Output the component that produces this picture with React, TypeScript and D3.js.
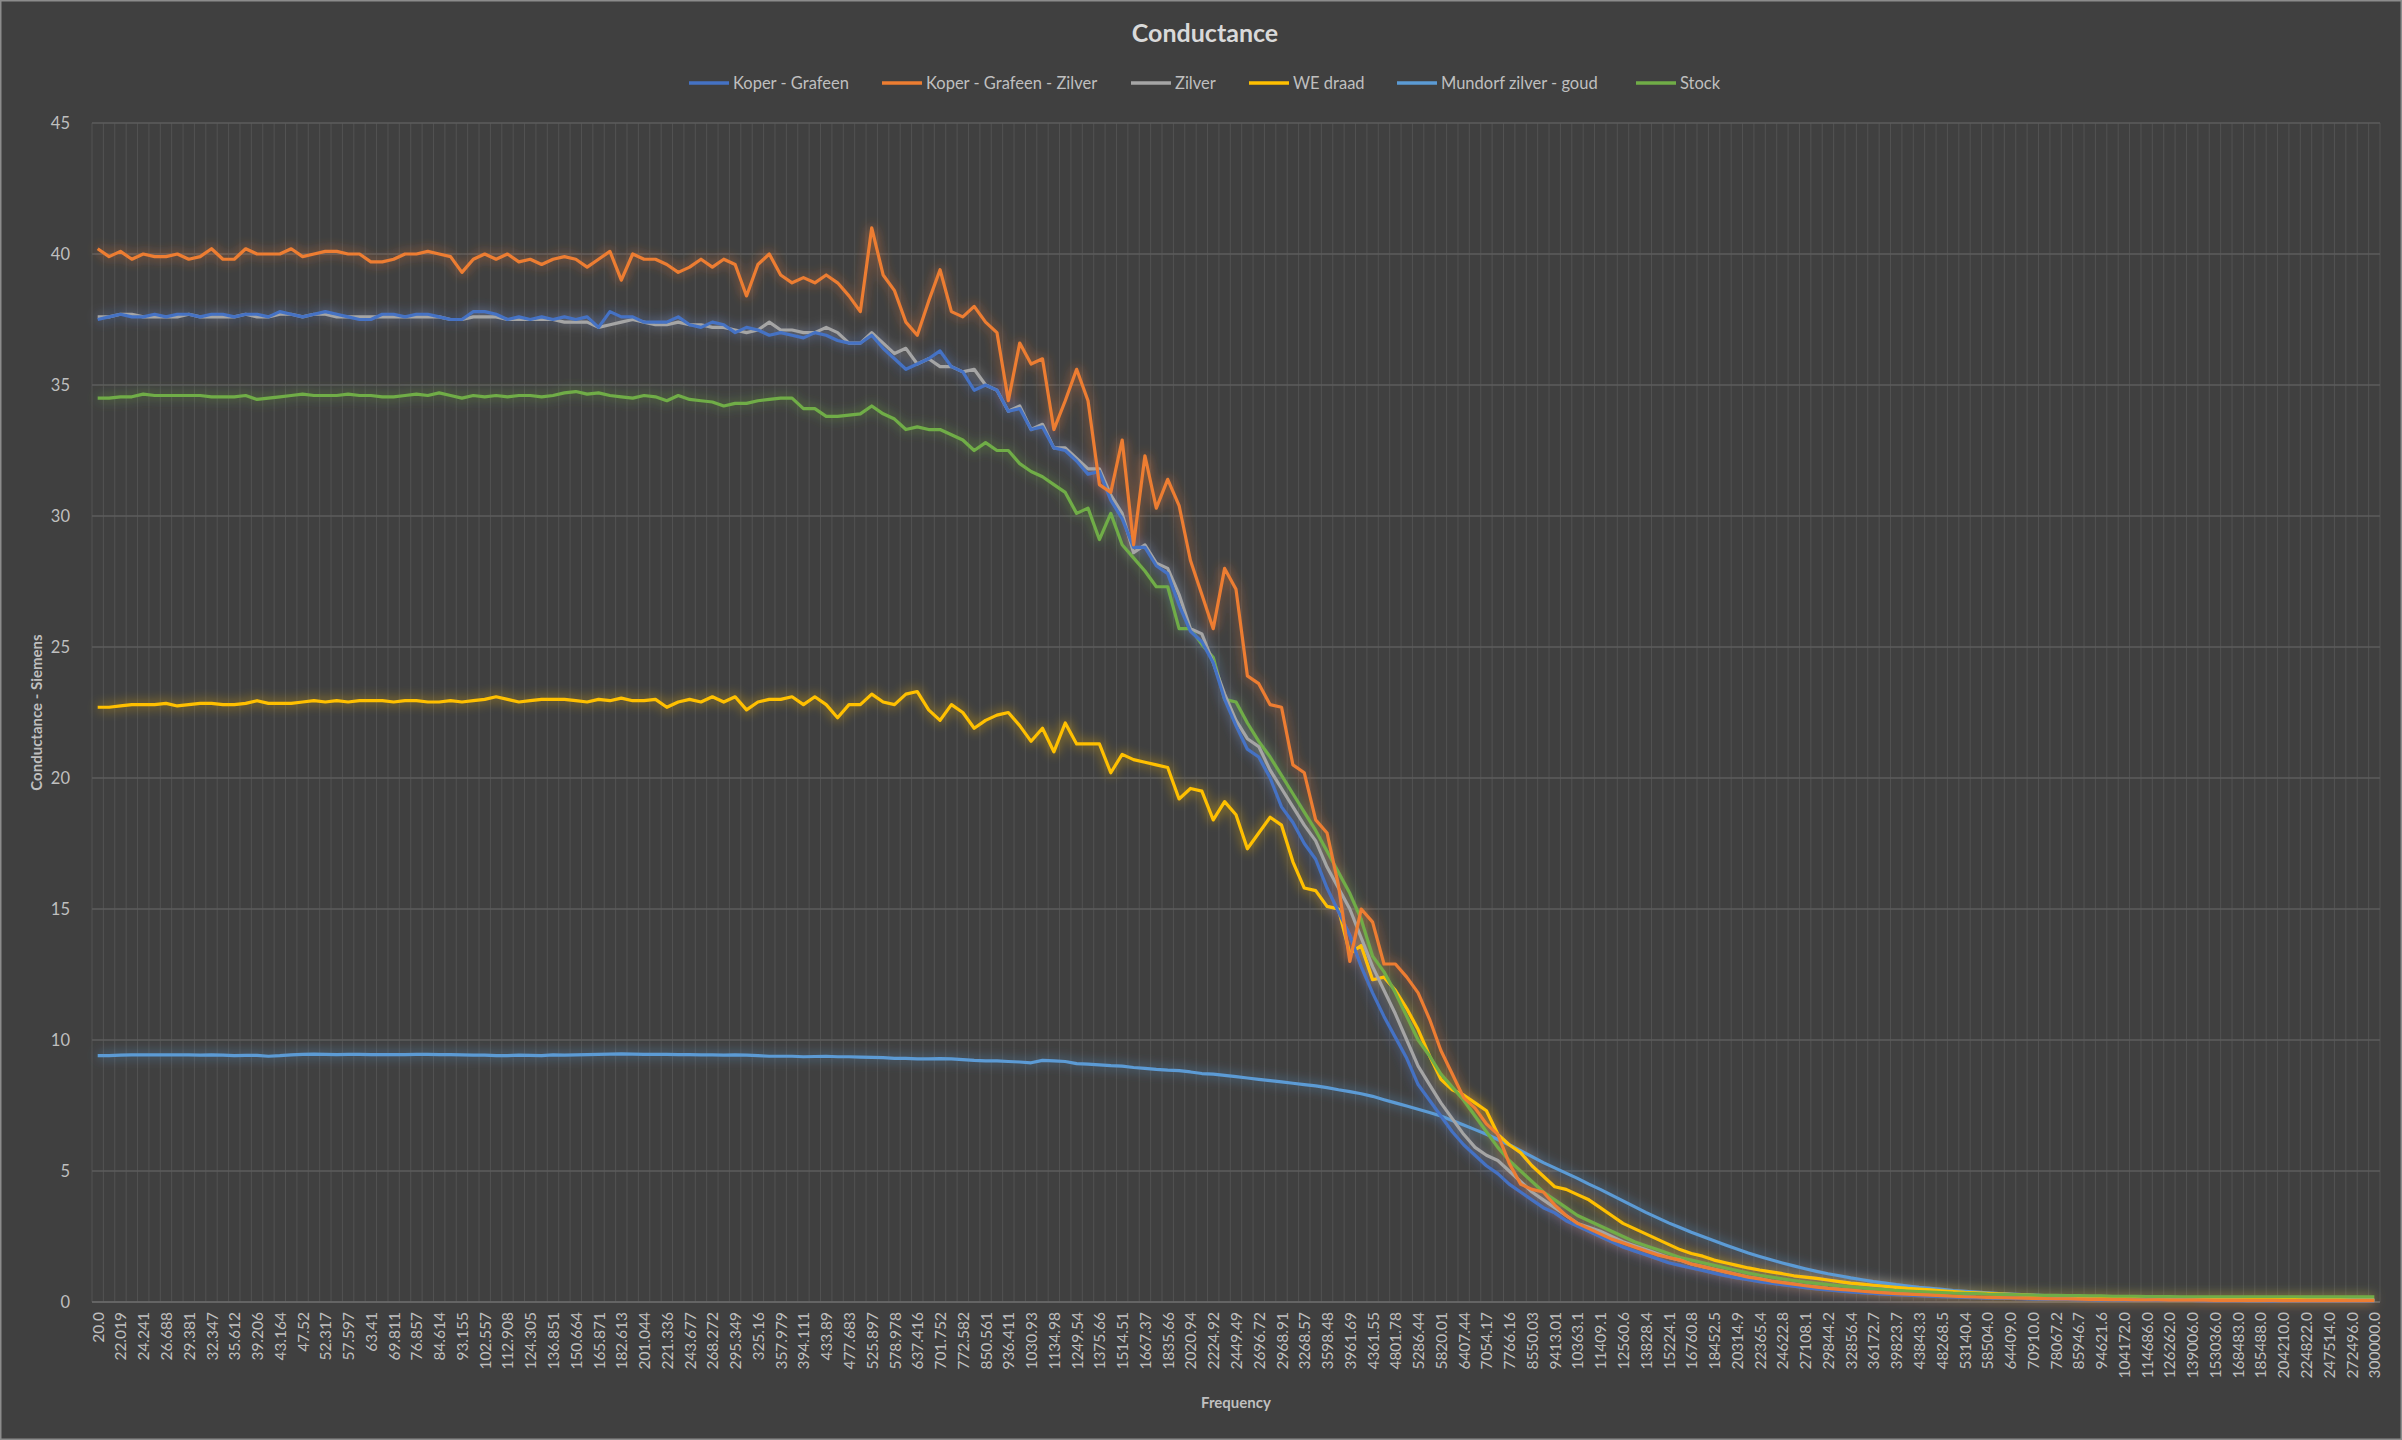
import React from "react";
import * as d3 from "d3";

const freqLabels = ["20.0","22.019","24.241","26.688","29.381","32.347","35.612","39.206","43.164","47.52","52.317","57.597","63.41","69.811","76.857","84.614","93.155","102.557","112.908","124.305","136.851","150.664","165.871","182.613","201.044","221.336","243.677","268.272","295.349","325.16","357.979","394.111","433.89","477.683","525.897","578.978","637.416","701.752","772.582","850.561","936.411","1030.93","1134.98","1249.54","1375.66","1514.51","1667.37","1835.66","2020.94","2224.92","2449.49","2696.72","2968.91","3268.57","3598.48","3961.69","4361.55","4801.78","5286.44","5820.01","6407.44","7054.17","7766.16","8550.03","9413.01","10363.1","11409.1","12560.6","13828.4","15224.1","16760.8","18452.5","20314.9","22365.4","24622.8","27108.1","29844.2","32856.4","36172.7","39823.7","43843.3","48268.5","53140.4","58504.0","64409.0","70910.0","78067.2","85946.7","94621.6","104172.0","114686.0","126262.0","139006.0","153036.0","168483.0","185488.0","204210.0","224822.0","247514.0","272496.0","300000.0"];

const koperGrafeen = [
37.5,37.6,37.7,37.6,37.6,37.7,37.6,37.7,37.7,37.6,
37.7,37.7,37.6,37.7,37.7,37.6,37.8,37.7,37.6,37.7,
37.8,37.7,37.6,37.5,37.5,37.7,37.7,37.6,37.7,37.7,
37.6,37.5,37.5,37.8,37.8,37.7,37.5,37.6,37.5,37.6,
37.5,37.6,37.5,37.6,37.2,37.8,37.6,37.6,37.4,37.4,
37.4,37.6,37.3,37.2,37.4,37.3,37.0,37.2,37.1,36.9,
37.0,36.9,36.8,37.0,36.9,36.7,36.6,36.6,36.9,36.4,
36.0,35.6,35.8,36.0,36.3,35.7,35.5,34.8,35.0,34.8,
34.0,34.1,33.3,33.4,32.6,32.5,32.1,31.6,31.7,30.6,
29.9,28.8,28.8,28.1,27.8,26.6,25.6,25.2,24.4,23.0,
22.0,21.1,20.8,20.0,18.9,18.3,17.5,16.9,15.8,14.9,
14.0,12.8,11.8,10.9,10.1,9.3,8.3,7.7,7.1,6.5,
6.0,5.6,5.2,4.9,4.5,4.2,3.9,3.6,3.4,3.1,
2.9,2.7,2.5,2.3,2.1,1.95,1.8,1.65,1.5,1.4,
1.3,1.2,1.1,1.0,0.92,0.85,0.78,0.72,0.66,0.6,
0.55,0.5,0.46,0.42,0.39,0.36,0.33,0.3,0.28,0.26,
0.24,0.22,0.2,0.19,0.18,0.17,0.16,0.15,0.14,0.13,
0.12,0.11,0.1,0.1,0.09,0.09,0.08,0.08,0.07,0.07,
0.07,0.06,0.06,0.06,0.06,0.05,0.05,0.05,0.05,0.05,
0.05,0.04,0.04,0.04,0.04,0.04,0.04,0.04,0.04,0.04,0.04];

const koperGrafeenZilver = [
40.2,39.9,40.1,39.8,40.0,39.9,39.9,40.0,39.8,39.9,
40.2,39.8,39.8,40.2,40.0,40.0,40.0,40.2,39.9,40.0,
40.1,40.1,40.0,40.0,39.7,39.7,39.8,40.0,40.0,40.1,
40.0,39.9,39.3,39.8,40.0,39.8,40.0,39.7,39.8,39.6,
39.8,39.9,39.8,39.5,39.8,40.1,39.0,40.0,39.8,39.8,
39.6,39.3,39.5,39.8,39.5,39.8,39.6,38.4,39.6,40.0,
39.2,38.9,39.1,38.9,39.2,38.9,38.4,37.8,41.0,39.2,
38.6,37.4,36.9,38.2,39.4,37.8,37.6,38.0,37.4,37.0,
34.4,36.6,35.8,36.0,33.3,34.4,35.6,34.4,31.2,30.9,
32.9,28.9,32.3,30.3,31.4,30.4,28.3,27.0,25.7,28.0,
27.2,23.9,23.6,22.8,22.7,20.5,20.2,18.4,17.9,15.9,
13.0,15.0,14.5,12.9,12.9,12.4,11.8,10.8,9.6,8.7,
7.8,7.4,6.8,6.4,5.3,4.5,4.3,4.2,3.7,3.3,
3.0,2.8,2.6,2.4,2.25,2.1,1.95,1.8,1.7,1.6,
1.45,1.35,1.25,1.15,1.05,0.95,0.88,0.8,0.74,0.68,
0.62,0.57,0.52,0.48,0.45,0.41,0.38,0.35,0.32,0.3,
0.28,0.26,0.24,0.22,0.2,0.19,0.18,0.17,0.16,0.15,
0.14,0.13,0.12,0.12,0.11,0.1,0.1,0.09,0.09,0.08,
0.08,0.08,0.07,0.07,0.07,0.07,0.06,0.06,0.06,0.06,
0.06,0.06,0.05,0.05,0.05,0.05,0.05,0.05,0.05,0.05,0.05];

const zilver = [
37.6,37.6,37.7,37.7,37.6,37.6,37.6,37.6,37.7,37.6,
37.6,37.6,37.6,37.7,37.6,37.6,37.7,37.7,37.6,37.7,
37.7,37.6,37.6,37.6,37.6,37.6,37.6,37.6,37.6,37.6,
37.6,37.5,37.5,37.6,37.6,37.6,37.5,37.5,37.5,37.5,
37.5,37.4,37.4,37.4,37.2,37.3,37.4,37.5,37.4,37.3,
37.3,37.4,37.3,37.3,37.2,37.2,37.1,37.0,37.1,37.4,
37.1,37.1,37.0,37.0,37.2,37.0,36.6,36.6,37.0,36.6,
36.2,36.4,35.8,36.0,35.7,35.7,35.5,35.6,35.0,34.8,
34.0,34.2,33.3,33.5,32.6,32.6,32.2,31.8,31.8,30.8,
30.1,28.6,28.9,28.2,28.0,27.0,25.7,25.5,24.4,23.2,
22.2,21.5,21.2,20.3,19.6,18.9,18.2,17.6,16.6,15.8,
15.0,13.9,12.8,11.9,11.0,10.0,9.0,8.3,7.6,7.0,
6.4,5.9,5.6,5.4,5.0,4.6,4.2,3.9,3.6,3.3,
3.0,2.85,2.7,2.5,2.3,2.15,2.0,1.85,1.7,1.6,
1.45,1.35,1.25,1.15,1.05,0.95,0.88,0.8,0.74,0.68,
0.62,0.57,0.52,0.48,0.44,0.4,0.37,0.34,0.31,0.29,
0.27,0.25,0.23,0.21,0.2,0.18,0.17,0.16,0.15,0.14,
0.13,0.12,0.12,0.11,0.1,0.1,0.09,0.09,0.08,0.08,
0.08,0.07,0.07,0.07,0.06,0.06,0.06,0.06,0.06,0.05,
0.05,0.05,0.05,0.05,0.05,0.05,0.05,0.05,0.05,0.05,0.05];

const weDraad = [
22.7,22.7,22.75,22.8,22.8,22.8,22.85,22.75,22.8,22.85,
22.85,22.8,22.8,22.85,22.95,22.85,22.85,22.85,22.9,22.95,
22.9,22.95,22.9,22.95,22.95,22.95,22.9,22.95,22.95,22.9,
22.9,22.95,22.9,22.95,23.0,23.1,23.0,22.9,22.95,23.0,
23.0,23.0,22.95,22.9,23.0,22.95,23.05,22.95,22.95,23.0,
22.7,22.9,23.0,22.9,23.1,22.9,23.1,22.6,22.9,23.0,
23.0,23.1,22.8,23.1,22.8,22.3,22.8,22.8,23.2,22.9,
22.8,23.2,23.3,22.6,22.2,22.8,22.5,21.9,22.2,22.4,
22.5,22.0,21.4,21.9,21.0,22.1,21.3,21.3,21.3,20.2,
20.9,20.7,20.6,20.5,20.4,19.2,19.6,19.5,18.4,19.1,
18.6,17.3,17.9,18.5,18.2,16.8,15.8,15.7,15.1,15.0,
13.3,13.6,12.3,12.4,11.9,11.2,10.4,9.4,8.5,8.1,
7.9,7.6,7.3,6.4,6.0,5.7,5.2,4.8,4.4,4.3,
4.1,3.9,3.6,3.3,3.0,2.8,2.6,2.4,2.2,2.0,
1.85,1.75,1.6,1.5,1.4,1.3,1.22,1.15,1.08,1.0,
0.95,0.9,0.84,0.78,0.72,0.68,0.64,0.6,0.56,0.52,
0.49,0.46,0.43,0.4,0.37,0.35,0.33,0.31,0.29,0.27,
0.25,0.23,0.22,0.21,0.2,0.19,0.18,0.17,0.16,0.15,
0.15,0.14,0.13,0.13,0.12,0.12,0.11,0.11,0.1,0.1,
0.1,0.09,0.09,0.09,0.08,0.08,0.08,0.08,0.07,0.07,0.07];

const mundorf = [
9.4,9.4,9.42,9.43,9.43,9.43,9.43,9.43,9.43,9.42,
9.43,9.42,9.4,9.41,9.41,9.38,9.4,9.43,9.45,9.46,
9.45,9.44,9.45,9.45,9.44,9.44,9.44,9.44,9.45,9.45,
9.44,9.44,9.43,9.42,9.42,9.4,9.4,9.42,9.41,9.4,
9.43,9.42,9.43,9.44,9.45,9.46,9.47,9.46,9.45,9.45,
9.45,9.44,9.44,9.43,9.43,9.42,9.43,9.42,9.4,9.38,
9.38,9.38,9.36,9.37,9.38,9.36,9.36,9.35,9.34,9.33,
9.3,9.3,9.28,9.28,9.29,9.28,9.25,9.22,9.2,9.2,
9.18,9.16,9.13,9.22,9.2,9.18,9.1,9.08,9.05,9.02,
9.0,8.95,8.92,8.88,8.85,8.83,8.78,8.72,8.7,8.65,
8.6,8.55,8.5,8.45,8.4,8.35,8.3,8.25,8.18,8.1,
8.03,7.95,7.85,7.72,7.6,7.48,7.36,7.23,7.1,6.93,
6.76,6.58,6.4,6.2,6.0,5.78,5.55,5.32,5.12,4.92,
4.72,4.5,4.3,4.08,3.86,3.64,3.42,3.22,3.02,2.84,
2.66,2.5,2.34,2.18,2.02,1.87,1.74,1.61,1.49,1.38,
1.27,1.17,1.08,1.0,0.92,0.85,0.78,0.72,0.66,0.61,
0.56,0.52,0.48,0.44,0.41,0.38,0.35,0.32,0.3,0.28,
0.26,0.24,0.22,0.21,0.2,0.19,0.18,0.17,0.16,0.15,
0.15,0.14,0.14,0.13,0.13,0.12,0.12,0.12,0.11,0.11,
0.11,0.1,0.1,0.1,0.1,0.1,0.09,0.09,0.09,0.09,0.09];

const stock = [
34.5,34.5,34.55,34.55,34.65,34.6,34.6,34.6,34.6,34.6,
34.55,34.55,34.55,34.6,34.45,34.5,34.55,34.6,34.65,34.6,
34.6,34.6,34.65,34.6,34.6,34.55,34.55,34.6,34.65,34.6,
34.7,34.6,34.5,34.6,34.55,34.6,34.55,34.6,34.6,34.55,
34.6,34.7,34.75,34.65,34.7,34.6,34.55,34.5,34.6,34.55,
34.4,34.6,34.45,34.4,34.35,34.2,34.3,34.3,34.4,34.45,
34.5,34.5,34.1,34.1,33.8,33.8,33.85,33.9,34.2,33.9,
33.7,33.3,33.4,33.3,33.3,33.1,32.9,32.5,32.8,32.5,
32.5,32.0,31.7,31.5,31.2,30.9,30.1,30.3,29.1,30.1,
28.9,28.4,27.9,27.3,27.3,25.7,25.7,25.1,24.6,23.0,
22.9,22.1,21.4,20.8,20.1,19.4,18.7,18.0,17.2,16.4,
15.6,14.6,13.2,12.6,11.8,10.9,10.0,9.4,8.7,8.2,
7.7,7.1,6.5,5.9,5.4,5.0,4.6,4.2,3.9,3.6,
3.3,3.1,2.9,2.7,2.5,2.3,2.15,2.0,1.85,1.7,
1.6,1.5,1.4,1.3,1.2,1.1,1.02,0.95,0.88,0.82,
0.76,0.71,0.66,0.62,0.58,0.54,0.5,0.47,0.44,0.42,
0.4,0.38,0.36,0.34,0.33,0.32,0.3,0.29,0.28,0.27,
0.26,0.25,0.25,0.24,0.24,0.23,0.23,0.22,0.22,0.22,
0.21,0.21,0.21,0.2,0.2,0.2,0.2,0.2,0.2,0.2,
0.2,0.2,0.2,0.2,0.2,0.2,0.2,0.2,0.2,0.2,0.2];

const seriesNames = ["Koper - Grafeen","Koper - Grafeen - Zilver","Zilver","WE draad","Mundorf zilver - goud","Stock"];
const seriesColors = ["#4472C4","#ED7D31","#A5A5A5","#FFC000","#5B9BD5","#70AD47"];
const seriesData = [koperGrafeen, koperGrafeenZilver, zilver, weDraad, mundorf, stock];
const yTicks = [0,5,10,15,20,25,30,35,40,45];
const drawOrder = [4, 3, 5, 2, 0, 1];

const W = 2402, H = 1440;
const M = { left: 92, right: 2380, top: 123, bottom: 1302 };
const FONT = "Lato, 'Open Sans', sans-serif";
const TEXT = "#BFBFBF";

export default function App() {
  const n = koperGrafeen.length;
  const idx = d3.range(n);
  const x = d3.scaleBand<number>().domain(idx).range([M.left, M.right]);
  const y = d3.scaleLinear().domain([0, 45]).range([M.bottom, M.top]);
  const cx = (i: number) => (x(i) as number) + x.bandwidth() / 2;
  const line = d3.line<number>().x((_, i) => cx(i)).y(d => y(d));
  const legendX = [689, 882, 1131, 1249, 1397, 1636];

  return (
    <svg width={W} height={H} style={{ position: "absolute", left: 0, top: 0, fontFamily: FONT }}>
      <defs>
        <filter id="glow" x="-5%" y="-5%" width="110%" height="110%">
          <feGaussianBlur in="SourceGraphic" stdDeviation="6" result="b" />
          <feComponentTransfer in="b" result="b2">
            <feFuncA type="linear" slope="0.8" />
          </feComponentTransfer>
          <feMerge>
            <feMergeNode in="b2" />
            <feMergeNode in="SourceGraphic" />
          </feMerge>
        </filter>
      </defs>
      <rect x={0.5} y={0.5} width={W - 1} height={H - 1} fill="#404040" stroke="#8C8C8C" strokeWidth={2} />
      <text x={W / 2 + 4} y={42} textAnchor="middle" fontSize={25} fontWeight="bold" fill="#D9D9D9">Conductance</text>
      {seriesNames.map((s, k) => (
        <g key={s} transform={`translate(${legendX[k]},83)`}>
          <line x1={0} x2={40} y1={0} y2={0} stroke={seriesColors[k]} strokeWidth={3.5} />
          <text x={44} y={6} fontSize={16.5} fill={TEXT}>{s}</text>
        </g>
      ))}
      {d3.range(n + 1).map(i => {
        const xx = i < n ? (x(i) as number) : M.right;
        return <line key={"v" + i} x1={xx} x2={xx} y1={M.top} y2={M.bottom} stroke="#5A5A5A" strokeWidth={1} opacity={0.7} />;
      })}
      {yTicks.map(t => (
        <g key={"y" + t}>
          <line x1={M.left} x2={M.right} y1={y(t)} y2={y(t)} stroke="#5C5C5C" strokeWidth={1.3} />
          <text x={M.left - 22} y={y(t) + 6} textAnchor="end" fontSize={16.5} fill={TEXT}>{t}</text>
        </g>
      ))}
      <line x1={M.left} x2={M.right} y1={M.bottom} y2={M.bottom} stroke="#6A6A6A" strokeWidth={1.5} />
      {freqLabels.map((l, j) => {
        const px = cx(j * 2);
        return (
          <text key={"x" + j} transform={`translate(${px + 6},${M.bottom + 10}) rotate(-90)`} textAnchor="end" fontSize={15.5} fill={TEXT}>{l}</text>
        );
      })}
      <g filter="url(#glow)">
        {drawOrder.map(k => (
          <path key={seriesNames[k]} d={line(seriesData[k]) as string} fill="none" stroke={seriesColors[k]} strokeWidth={3.2} strokeLinejoin="round" />
        ))}
      </g>
      <text transform={`translate(42,${(M.top + M.bottom) / 2}) rotate(-90)`} textAnchor="middle" fontSize={15} fontWeight="bold" fill={TEXT}>Conductance - Siemens</text>
      <text x={(M.left + M.right) / 2} y={1408} textAnchor="middle" fontSize={15} fontWeight="bold" fill={TEXT}>Frequency</text>
    </svg>
  );
}
